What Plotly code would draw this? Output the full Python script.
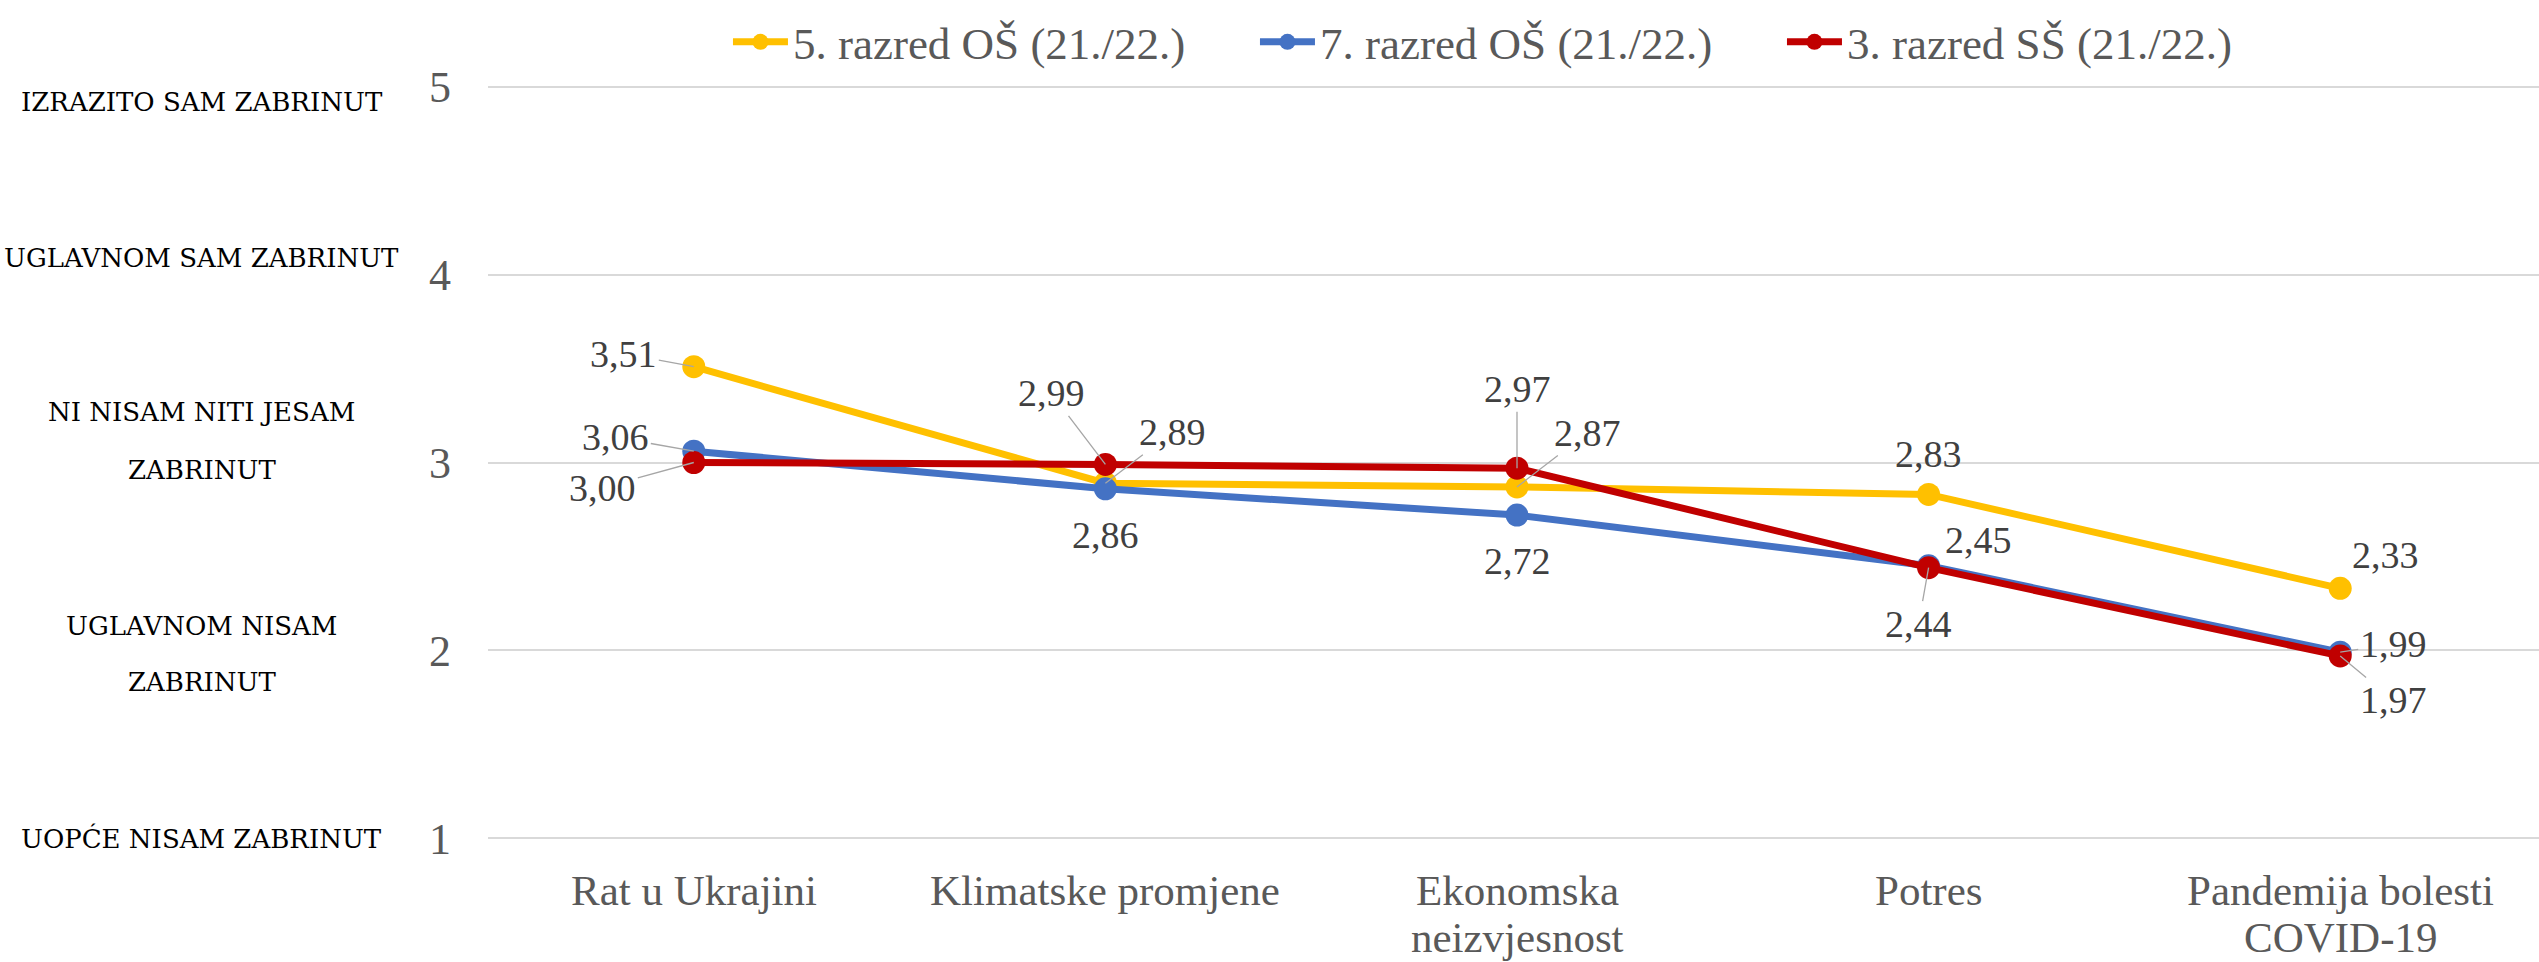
import plotly.graph_objects as go

categories = ["Rat u Ukrajini", "Klimatske promjene", "Ekonomska<br>neizvjesnost", "Potres", "Pandemija bolesti<br>COVID-19"]
series_names = ["5. razred OŠ (21./22.)", "7. razred OŠ (21./22.)", "3. razred SŠ (21./22.)"]
yellow_vals = [3.51, 2.89, 2.87, 2.83, 2.33]
blue_vals = [3.06, 2.86, 2.72, 2.45, 1.99]
red_vals = [3.00, 2.99, 2.97, 2.44, 1.97]
y_ticks = [1, 2, 3, 4, 5]
# descriptive level labels (one entry per text line) and the y level at which each line sits
level_lines = ["IZRAZITO SAM ZABRINUT", "UGLAVNOM SAM ZABRINUT", "NI NISAM NITI JESAM", "ZABRINUT",
               "UGLAVNOM NISAM", "ZABRINUT", "UOPĆE NISAM ZABRINUT"]
level_line_y = [4.92, 4.09, 3.27, 2.96, 2.13, 1.83, 1.0]

colors = ["#FFC000", "#4472C4", "#C00000"]
all_vals = [yellow_vals, blue_vals, red_vals]

# label offsets (pixels) and whether a leader line is drawn
label_pos = [
    [(-70, -13, True), (67, -51, True), (70, -54, True), (0, -40, False), (45, -33, False)],
    [(-78, -14, True), (0, 46, False), (0, 46, False), (50, -26, False), (53, -8, True)],
    [(-91, 25, True), (-54, -71, True), (0, -79, True), (-10, 56, True), (53, 44, True)],
]

NUM_FONT = "Liberation Serif"

fig = go.Figure()
for name, vals, col in zip(series_names, all_vals, colors):
    fig.add_trace(go.Scatter(
        x=list(range(len(categories))), y=vals, name=name, mode="lines+markers",
        line=dict(color=col, width=7), marker=dict(color=col, size=23),
    ))

annotations = []
for vals, poss in zip(all_vals, label_pos):
    for i, (v, (ax, ay, lead)) in enumerate(zip(vals, poss)):
        annotations.append(dict(
            x=i, y=v, xref="x", yref="y", text=f"{v:.2f}".replace(".", ","),
            showarrow=True, ax=ax, ay=ay, arrowhead=0, arrowwidth=1.3,
            arrowcolor="#A6A6A6" if lead else "rgba(0,0,0,0)", standoff=0,
            font=dict(family=NUM_FONT, size=38, color="#404040"),
        ))

for lbl, yy in zip(level_lines, level_line_y):
    annotations.append(dict(
        x=-0.1395, y=yy, xref="paper", yref="y", text=lbl, showarrow=False,
        xanchor="center", yanchor="middle", align="center",
        font=dict(family="DejaVu Serif", size=26, color="#000000"),
    ))

# category labels, one annotation per line, placed at the category positions of the x axis
line_y = [-0.0675, -0.1285]
for i, cat in enumerate(categories):
    for j, part in enumerate(cat.split("<br>")):
        annotations.append(dict(
            x=i, y=line_y[j], xref="x", yref="paper", text=part, showarrow=False,
            xanchor="center", yanchor="middle",
            font=dict(family=NUM_FONT, size=43, color="#595959"),
        ))

fig.update_layout(
    width=2539, height=962,
    margin=dict(l=488, r=0, t=85, b=122, autoexpand=False),
    paper_bgcolor="white", plot_bgcolor="white",
    showlegend=True,
    legend=dict(orientation="h", x=0.117, xanchor="left", yref="container", y=0.9563, yanchor="middle",
                font=dict(family=NUM_FONT, size=45, color="#595959"),
                itemwidth=55, entrywidth=457, entrywidthmode="pixels", bgcolor="rgba(0,0,0,0)"),
    annotations=annotations,
    xaxis=dict(tickmode="array", tickvals=list(range(len(categories))), showticklabels=False,
               range=[-0.5, len(categories) - 0.517], showgrid=False, zeroline=False, showline=False,
               ticks=""),
    yaxis=dict(range=[0.99, 5.01], tickvals=y_ticks, showgrid=True, gridcolor="#D9D9D9", gridwidth=2,
               zeroline=False, showline=False, ticks="", ticklabelstandoff=36,
               tickfont=dict(family=NUM_FONT, size=44, color="#595959")),
)

fig.write_html("out.html", config={"displayModeBar": False},
               post_script="document.body.style.margin='0px';")
